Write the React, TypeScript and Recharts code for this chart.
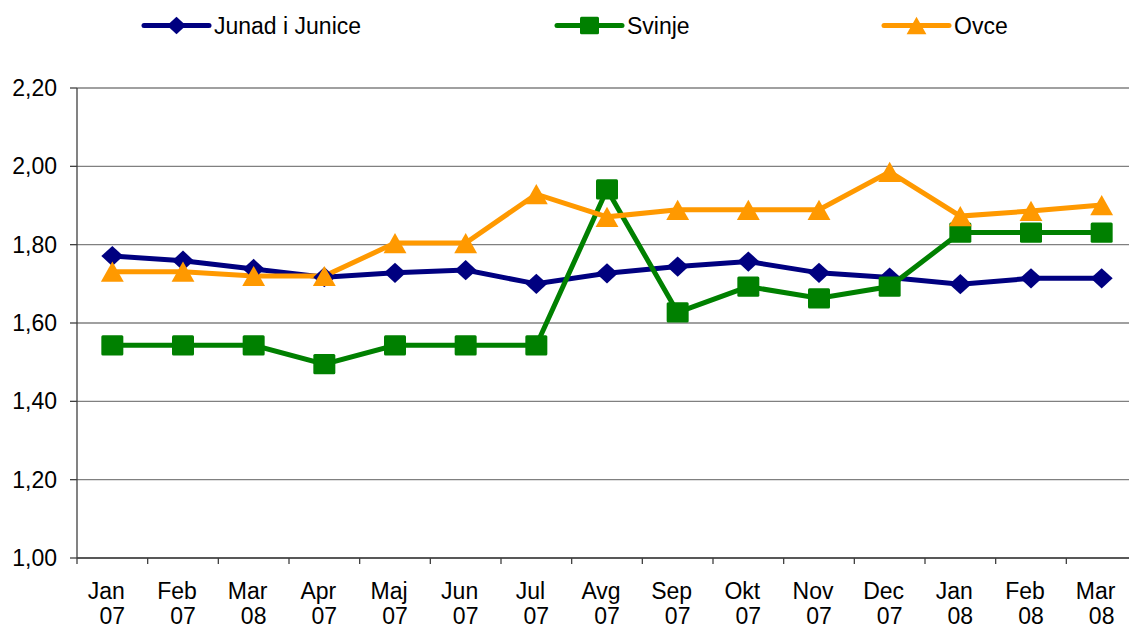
import React from "react";
import { LineChart, Line, XAxis, YAxis, CartesianGrid } from "recharts";

const months = ["Jan", "Feb", "Mar", "Apr", "Maj", "Jun", "Jul", "Avg", "Sep", "Okt", "Nov", "Dec", "Jan", "Feb", "Mar"];
const years = ["07", "07", "08", "07", "07", "07", "07", "07", "07", "07", "07", "07", "08", "08", "08"];

const junad = [1.771, 1.759, 1.738, 1.717, 1.728, 1.735, 1.7, 1.727, 1.744, 1.757, 1.728, 1.716, 1.699, 1.714, 1.714];
const svinje = [1.543, 1.543, 1.543, 1.495, 1.543, 1.543, 1.543, 1.941, 1.627, 1.693, 1.663, 1.693, 1.831, 1.831, 1.831];
const ovce = [1.731, 1.731, 1.72, 1.72, 1.804, 1.804, 1.929, 1.871, 1.889, 1.889, 1.889, 1.986, 1.873, 1.886, 1.901];

const yTicks = [1.0, 1.2, 1.4, 1.6, 1.8, 2.0, 2.2];

const seriesNames = ["Junad i Junice", "Svinje", "Ovce"];
const seriesColors = ["#000080", "#008000", "#FF9900"];
const seriesKeys = ["junad", "svinje", "ovce"];
const seriesShapes = ["diamond", "square", "triangle"];

const data = months.map((m, i) => ({
  i,
  junad: junad[i],
  svinje: svinje[i],
  ovce: ovce[i],
}));

const FONT = "'Liberation Sans', Arial, sans-serif";
const W = 1137;
const H = 628;
const Y_AXIS_W = 77;
const BAND = (W - Y_AXIS_W) / months.length;

function Marker({ shape, cx, cy, color, s }: { shape: string; cx: number; cy: number; color: string; s: number }) {
  if (shape === "diamond") {
    const w = s * 0.5;
    const h = s * 0.46;
    return <polygon points={`${cx - w},${cy} ${cx},${cy - h} ${cx + w},${cy} ${cx},${cy + h}`} fill={color} />;
  }
  if (shape === "square") {
    const w = s * 0.5;
    const h = s * 0.46;
    return <rect x={cx - w} y={cy - h} width={2 * w} height={2 * h} fill={color} rx={1.5} />;
  }
  const w = s * 0.52;
  const h = s * 0.46;
  return <polygon points={`${cx - w},${cy + h} ${cx},${cy - h} ${cx + w},${cy + h}`} fill={color} />;
}

const makeDot = (shape: string, color: string) => (props: any) => {
  const { cx, cy, index } = props;
  if (cx == null || cy == null) return <g key={`d-${shape}-${index}`} />;
  return (
    <g key={`d-${shape}-${index}`}>
      <Marker shape={shape} cx={cx} cy={cy} color={color} s={22} />
    </g>
  );
};

const XTick = (props: any) => {
  const { x, y, payload } = props;
  const i = payload.value as number;
  return (
    <g>
      <line x1={x - BAND / 2} x2={x - BAND / 2} y1={y} y2={y + 6} stroke="#404040" strokeWidth={1.3} />
      <text x={x - 6} y={y + 41} textAnchor="middle" fontSize={23} fontFamily={FONT} fill="#000">
        {months[i]}
      </text>
      <text x={x} y={y + 66} textAnchor="middle" fontSize={23} fontFamily={FONT} fill="#000">
        {years[i]}
      </text>
    </g>
  );
};

const legendLineStart = [144, 557, 884];

function LegendOverlay() {
  return (
    <svg width={1129} height={60} style={{ position: "absolute", left: 0, top: 0 }}>
      {seriesNames.map((name, k) => {
        const x0 = legendLineStart[k];
        const cy = 25.5;
        return (
          <g key={name}>
            <line x1={x0} x2={x0 + 65} y1={cy} y2={cy} stroke={seriesColors[k]} strokeWidth={5} strokeLinecap="round" />
            <Marker shape={seriesShapes[k]} cx={x0 + 32.5} cy={cy} color={seriesColors[k]} s={19} />
            <text x={x0 + 70} y={cy + 8} fontSize={23} fontFamily={FONT} fill="#000">
              {name}
            </text>
          </g>
        );
      })}
    </svg>
  );
}

export default function App() {
  return (
    <div style={{ position: "absolute", left: 0, top: 0, width: 1129, height: H, overflow: "hidden", background: "#fff" }}>
      <LineChart width={W} height={H} data={data} margin={{ top: 88, right: 0, left: 0, bottom: 0 }}>
        <CartesianGrid vertical={false} stroke="#808080" strokeWidth={1.3} />
        <XAxis
          dataKey="i"
          type="category"
          scale="band"
          height={70}
          tick={<XTick />}
          tickLine={false}
          tickSize={0}
          tickMargin={0}
          axisLine={{ stroke: "#404040", strokeWidth: 1.3 }}
          interval={0}
        />
        <YAxis
          width={Y_AXIS_W}
          domain={[1, 2.2]}
          ticks={yTicks}
          tickFormatter={(v: number) => v.toFixed(2).replace(".", ",")}
          tick={{ fill: "#000", fontSize: 23, fontFamily: FONT }}
          tickSize={7}
          tickMargin={13}
          tickLine={{ stroke: "#404040", strokeWidth: 1.3 }}
          axisLine={{ stroke: "#404040", strokeWidth: 1.3 }}
          interval={0}
        />
        {seriesKeys.map((key, k) => (
          <Line
            key={key}
            dataKey={key}
            name={seriesNames[k]}
            stroke={seriesColors[k]}
            strokeWidth={5}
            dot={makeDot(seriesShapes[k], seriesColors[k])}
            activeDot={false}
            isAnimationActive={false}
            type="linear"
          />
        ))}
      </LineChart>
      <LegendOverlay />
    </div>
  );
}
